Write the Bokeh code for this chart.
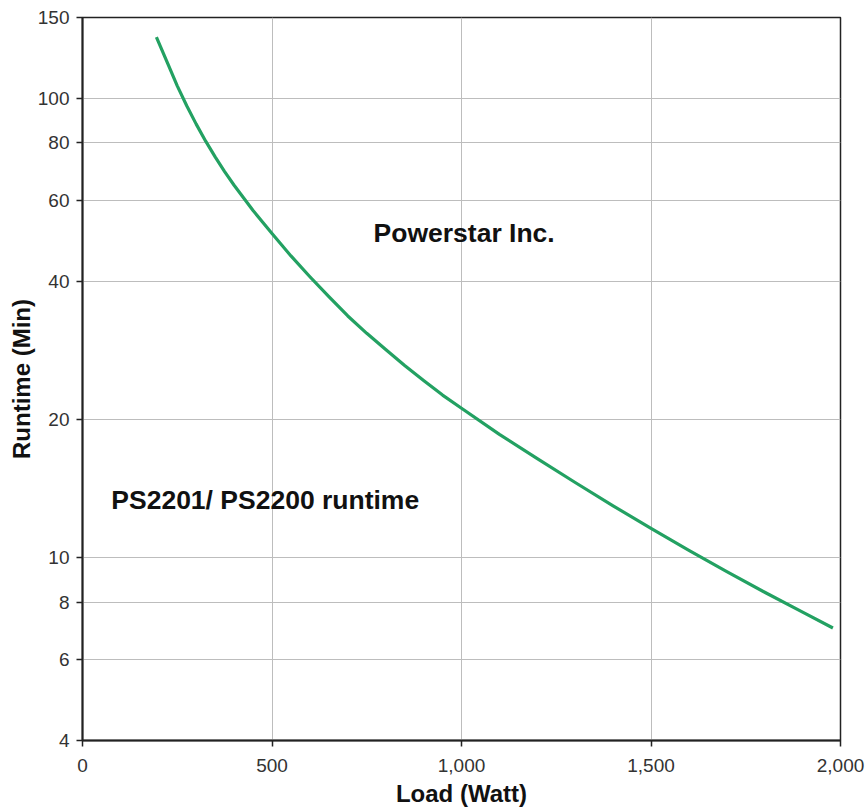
from bokeh.plotting import figure
from bokeh.models import Range1d, FixedTicker, NumeralTickFormatter, Label
from bokeh.embed import file_html
from bokeh.resources import INLINE

# Data
load_watt = [195, 225, 250, 275, 300, 325, 350, 375, 400, 450, 500, 550, 600,
             650, 700, 750, 800, 850, 900, 950, 1000, 1100, 1200, 1300, 1400,
             1500, 1600, 1700, 1800, 1900, 1980]
runtime_min = [136, 119, 106.5, 96.4, 87.9, 80.7, 74.6, 69.3, 64.7, 57.0, 50.8,
               45.4, 40.9, 37.0, 33.6, 30.8, 28.4, 26.2, 24.3, 22.6, 21.16,
               18.56, 16.43, 14.58, 12.97, 11.58, 10.37, 9.33, 8.41, 7.61, 7.03]
x_ticks = [0, 500, 1000, 1500, 2000]
y_ticks = [4, 6, 8, 10, 20, 40, 60, 80, 100, 150]
title_text = "Powerstar Inc."
model_text = "PS2201/ PS2200 runtime"

FONT = "Liberation Sans"

p = figure(width=866, height=812, y_axis_type="log",
           x_range=Range1d(0, 2000), y_range=Range1d(4, 150),
           output_backend="svg", toolbar_location=None,
           min_border_left=82, min_border_top=17, min_border_right=26,
           min_border_bottom=72)

p.background_fill_color = "white"
p.border_fill_color = "white"
p.outline_line_color = "#222222"
p.outline_line_width = 1.5

p.line(load_watt, runtime_min, line_color="#23a162", line_width=3.2,
       line_join="round")

p.xaxis.ticker = FixedTicker(ticks=x_ticks)
p.yaxis.ticker = FixedTicker(ticks=y_ticks, minor_ticks=[])
p.xaxis.formatter = NumeralTickFormatter(format="0,0")
p.yaxis.formatter = NumeralTickFormatter(format="0")

for ax in (p.xaxis, p.yaxis):
    ax.axis_line_color = "#222222"
    ax.axis_line_width = 2
    ax.major_tick_line_color = "#222222"
    ax.major_tick_line_width = 1.5
    ax.major_tick_out = 6
    ax.major_tick_in = 0
    ax.minor_tick_out = 0
    ax.minor_tick_in = 0
    ax.major_label_text_font = FONT
    ax.major_label_text_font_size = "19px"
    ax.major_label_text_color = "#333333"
    ax.axis_label_text_font = FONT
    ax.axis_label_text_font_style = "bold"
    ax.axis_label_text_font_size = "24px"
    ax.axis_label_text_color = "#111111"

p.xaxis.major_label_standoff = 12
p.yaxis.major_label_standoff = 7
p.xaxis.axis_label_standoff = 5
p.yaxis.axis_label_standoff = 0
p.xaxis.axis_label = "Load (Watt)"
p.yaxis.axis_label = "Runtime (Min)"

p.xgrid.grid_line_color = "#bdbdbd"
p.ygrid.grid_line_color = "#bdbdbd"
p.xgrid.grid_line_width = 1
p.ygrid.grid_line_width = 1

p.add_layout(Label(x=768, y=50.9, text=title_text, text_font=FONT,
                   text_font_style="bold", text_font_size="26.5px",
                   text_color="#111111", text_baseline="middle"))
p.add_layout(Label(x=76, y=13.36, text=model_text, text_font=FONT,
                   text_font_style="bold", text_font_size="26.5px",
                   text_color="#111111", text_baseline="middle"))

open("out.html", "w").write(file_html(p, INLINE))
